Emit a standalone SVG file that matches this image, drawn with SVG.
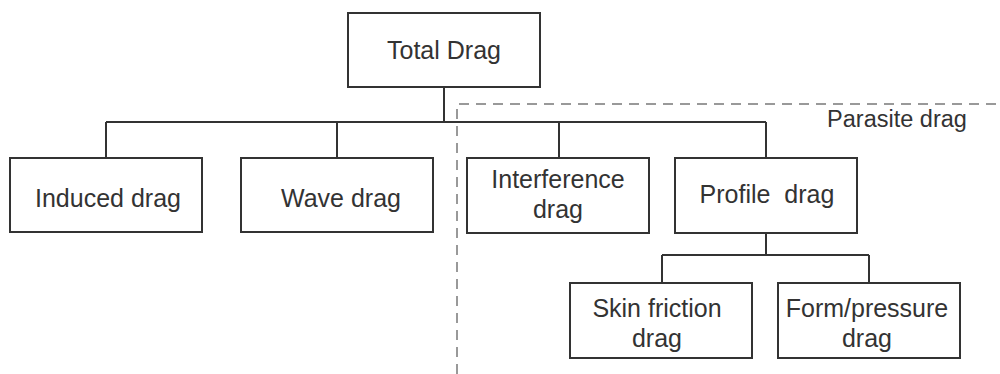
<svg xmlns="http://www.w3.org/2000/svg" width="1000" height="374" viewBox="0 0 1000 374">
<style>
.box{fill:#fff;stroke:#333;stroke-width:2}
.t{font-family:"Liberation Sans",Arial,sans-serif;font-size:25px;fill:#333;text-anchor:middle;white-space:pre}
.p{font-size:23.5px}
.c{fill:none;stroke:#333;stroke-width:2}
.d{fill:none;stroke:#999;stroke-width:2;stroke-dasharray:10 7}
</style>
<rect width="1000" height="374" fill="#fff"/>
<g id="parasite">
<path class="d" d="M457 374 V104 H1000"/>
<text class="t p" x="897" y="127">Parasite drag</text>
</g>
<g id="connectors">
<path class="c" d="M444 87 V122 M106 122 H766 M106 122 V158 M337 122 V158 M559 122 V158 M766 122 V158"/>
<path class="c" d="M766 233 V255 M662 255 H869 M662 255 V283 M869 255 V283"/>
</g>
<g id="total"><rect class="box" x="348" y="13" width="192" height="74"/><text class="t" x="444" y="59">Total Drag</text></g>
<g id="induced"><rect class="box" x="10" y="158" width="192" height="74"/><text class="t" x="108" y="207">Induced drag</text></g>
<g id="wave"><rect class="box" x="241" y="158" width="192" height="74"/><text class="t" x="341" y="207">Wave drag</text></g>
<g id="interference"><rect class="box" x="467" y="158" width="182" height="75"/><text class="t" x="558" y="188">Interference</text><text class="t" x="558" y="218">drag</text></g>
<g id="profile"><rect class="box" x="675" y="158" width="182" height="75"/><text class="t" x="767" y="203">Profile  drag</text></g>
<g id="skin"><rect class="box" x="570" y="283" width="182" height="75"/><text class="t" x="657" y="317">Skin friction</text><text class="t" x="657" y="347">drag</text></g>
<g id="form"><rect class="box" x="778" y="283" width="182" height="75"/><text class="t" x="867" y="317">Form/pressure</text><text class="t" x="867" y="347">drag</text></g>
</svg>
